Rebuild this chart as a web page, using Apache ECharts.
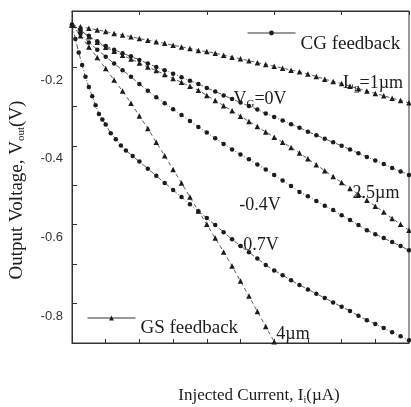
<!DOCTYPE html>
<html>
<head>
<meta charset="utf-8">
<script src="https://cdn.jsdelivr.net/npm/echarts@6/dist/echarts.min.js"></script>
<style>
html,body{margin:0;padding:0;background:#fff;}
#chart{width:411px;height:407px;}
</style>
</head>
<body>
<div id="chart"></div>
<script>
// Injected current (x, arbitrary units 0..10) vs output voltage (V)
const gs1um = [[0,-0.093],[0.25,-0.098],[0.5,-0.102],[0.75,-0.106],[1,-0.110],[1.25,-0.115],[1.5,-0.119],[1.75,-0.123],[2,-0.128],[2.25,-0.132],[2.5,-0.136],[2.75,-0.140],[3,-0.145],[3.25,-0.149],[3.5,-0.153],[3.75,-0.158],[4,-0.161],[4.25,-0.165],[4.5,-0.170],[4.75,-0.175],[5,-0.179],[5.25,-0.184],[5.5,-0.189],[5.75,-0.194],[6,-0.198],[6.25,-0.203],[6.5,-0.208],[6.75,-0.212],[7,-0.218],[7.25,-0.224],[7.5,-0.231],[7.75,-0.237],[8,-0.242],[8.25,-0.249],[8.5,-0.255],[8.75,-0.261],[9,-0.267],[9.25,-0.273],[9.5,-0.279],[9.75,-0.285],[10,-0.291]];
const cg0V = [[0,-0.093],[0.25,-0.107],[0.5,-0.121],[0.75,-0.135],[1,-0.147],[1.25,-0.156],[1.5,-0.165],[1.75,-0.173],[2,-0.182],[2.25,-0.191],[2.5,-0.200],[2.75,-0.208],[3,-0.217],[3.25,-0.226],[3.5,-0.235],[3.75,-0.243],[4,-0.253],[4.25,-0.262],[4.5,-0.272],[4.75,-0.281],[5,-0.290],[5.25,-0.299],[5.5,-0.308],[5.75,-0.318],[6,-0.327],[6.25,-0.336],[6.5,-0.345],[6.75,-0.354],[7,-0.364],[7.25,-0.373],[7.5,-0.382],[7.75,-0.391],[8,-0.400],[8.25,-0.409],[8.5,-0.419],[8.75,-0.428],[9,-0.437],[9.25,-0.446],[9.5,-0.456],[9.75,-0.465],[10,-0.474]];
const gs2p5um = [[0,-0.093],[0.25,-0.108],[0.5,-0.123],[0.75,-0.137],[1,-0.150],[1.25,-0.160],[1.5,-0.170],[1.75,-0.180],[2,-0.190],[2.25,-0.200],[2.5,-0.209],[2.75,-0.219],[3,-0.229],[3.25,-0.239],[3.5,-0.249],[3.75,-0.259],[4,-0.272],[4.25,-0.285],[4.5,-0.298],[4.75,-0.311],[5,-0.325],[5.25,-0.338],[5.5,-0.351],[5.75,-0.365],[6,-0.378],[6.25,-0.391],[6.5,-0.404],[6.75,-0.418],[7,-0.433],[7.25,-0.448],[7.5,-0.463],[7.75,-0.478],[8,-0.493],[8.25,-0.508],[8.5,-0.523],[8.75,-0.538],[9,-0.553],[9.25,-0.568],[9.5,-0.584],[9.75,-0.599],[10,-0.614]];
const cgM04V = [[0,-0.093],[0.25,-0.116],[0.5,-0.138],[0.75,-0.156],[1,-0.174],[1.25,-0.191],[1.5,-0.208],[1.75,-0.225],[2,-0.243],[2.25,-0.260],[2.5,-0.277],[2.75,-0.292],[3,-0.307],[3.25,-0.322],[3.5,-0.337],[3.75,-0.352],[4,-0.366],[4.25,-0.381],[4.5,-0.395],[4.75,-0.409],[5,-0.422],[5.25,-0.434],[5.5,-0.447],[5.75,-0.460],[6,-0.474],[6.25,-0.488],[6.5,-0.502],[6.75,-0.517],[7,-0.528],[7.25,-0.540],[7.5,-0.552],[7.75,-0.563],[8,-0.576],[8.25,-0.588],[8.5,-0.601],[8.75,-0.614],[9,-0.624],[9.25,-0.634],[9.5,-0.644],[9.75,-0.654],[10,-0.665]];
const gs4um = [[0,-0.093],[0.25,-0.121],[0.5,-0.149],[0.75,-0.176],[1,-0.204],[1.25,-0.233],[1.5,-0.261],[1.75,-0.292],[2,-0.324],[2.25,-0.356],[2.5,-0.391],[2.75,-0.425],[3,-0.460],[3.25,-0.494],[3.5,-0.530],[3.75,-0.565],[4,-0.599],[4.25,-0.634],[4.5,-0.669],[4.75,-0.705],[5,-0.743],[5.25,-0.781],[5.5,-0.820],[5.75,-0.858],[6,-0.897]];
const cgM07V = [[0,-0.093],[0.1,-0.129],[0.2,-0.163],[0.3,-0.195],[0.4,-0.225],[0.5,-0.251],[0.6,-0.274],[0.7,-0.297],[0.8,-0.319],[0.9,-0.333],[1,-0.346],[1.15,-0.368],[1.3,-0.383],[1.45,-0.399],[1.6,-0.412],[1.8,-0.426],[2,-0.440],[2.25,-0.458],[2.5,-0.476],[2.75,-0.494],[3,-0.512],[3.25,-0.530],[3.5,-0.548],[3.75,-0.566],[4,-0.583],[4.25,-0.601],[4.5,-0.619],[4.75,-0.637],[5,-0.654],[5.25,-0.670],[5.5,-0.686],[5.75,-0.702],[6,-0.716],[6.25,-0.728],[6.5,-0.741],[6.75,-0.753],[7,-0.764],[7.25,-0.775],[7.5,-0.786],[7.75,-0.797],[8,-0.808],[8.25,-0.819],[8.5,-0.831],[8.75,-0.842],[9,-0.852],[9.25,-0.862],[9.5,-0.873],[9.75,-0.883],[10,-0.893]];
const yTickLabels = ['-0.2', '-0.4', '-0.6', '-0.8'];
const xMin = 0, xMax = 10;
const yMin = -0.9, yMax = -0.058;

const ink = '#1c1c1c';
const serif = '"Liberation Serif", "DejaVu Serif", serif';

function cgSeries(data) {
  return {
    name: 'CG feedback', type: 'line', data: data,
    symbol: 'circle', symbolSize: 4.5,
    itemStyle: { color: ink },
    lineStyle: { color: '#333', width: 0.8, type: [5, 2, 1, 2] },
    z: 3
  };
}
function gsSeries(data) {
  return {
    name: 'GS feedback', type: 'line', data: data,
    symbol: 'triangle', symbolSize: 5.5,
    itemStyle: { color: ink },
    lineStyle: { color: '#333', width: 0.8, type: [4, 3] },
    z: 3
  };
}

const chart = echarts.init(document.getElementById('chart'), null, { renderer: 'canvas' });
chart.setOption({
  animation: false,
  backgroundColor: '#fff',
  grid: { left: 72, right: 2, top: 11, bottom: 64, show: true, borderColor: '#333', borderWidth: 1 },
  xAxis: [{
    type: 'value', min: xMin, max: xMax, interval: 1, position: 'bottom',
    axisLine: { show: true, lineStyle: { color: '#333', width: 1 } },
    axisTick: { show: true, inside: true, length: 4, lineStyle: { color: '#333' } },
    axisLabel: { show: false }, splitLine: { show: false }
  }, {
    type: 'value', min: xMin, max: xMax, interval: 2, position: 'top',
    axisLine: { show: true, lineStyle: { color: '#333', width: 1 } },
    axisTick: { show: true, inside: true, length: 4, lineStyle: { color: '#333' } },
    axisLabel: { show: false }, splitLine: { show: false }
  }],
  yAxis: {
    type: 'value', min: yMin, max: yMax, interval: 0.1,
    axisLine: { show: true, lineStyle: { color: '#333', width: 1 } },
    axisTick: { show: true, inside: true, length: 5, lineStyle: { color: '#333' } },
    splitLine: { show: false },
    axisLabel: {
      margin: 9, color: '#333', fontSize: 13, lineHeight: 26,
      fontFamily: '"Liberation Sans", Arial, sans-serif',
      formatter: function (v) {
        const s = (Math.round(v * 10) / 10).toFixed(1);
        return yTickLabels.indexOf(s) >= 0 ? '\n' + s : '';
      }
    }
  },
  legend: [{
    data: ['CG feedback'], left: 242, top: 6, itemWidth: 48, itemHeight: 6,
    selectedMode: false,
    formatter: function (n) { return '\n' + n; },
    lineStyle: { type: 'solid', width: 1, color: '#333' },
    textStyle: { fontFamily: serif, fontSize: 19, color: ink, lineHeight: 22 }
  }, {
    data: ['GS feedback'], left: 82, top: 292, itemWidth: 48, itemHeight: 6,
    selectedMode: false,
    formatter: function (n) { return '\n' + n; },
    lineStyle: { type: 'solid', width: 1, color: '#333' },
    textStyle: { fontFamily: serif, fontSize: 19, color: ink, lineHeight: 21 }
  }],
  series: [
    gsSeries(gs1um), cgSeries(cg0V), gsSeries(gs2p5um),
    cgSeries(cgM04V), gsSeries(gs4um), cgSeries(cgM07V)
  ],
  graphic: [
    { type: 'text', x: 17, y: 190, rotation: Math.PI / 2,
      style: { text: '{a|Output Voltage, V}{s|out}{a|(V)}', align: 'center', verticalAlign: 'middle', fill: ink,
        rich: { a: { fontFamily: serif, fontSize: 19, fill: ink }, s: { fontFamily: serif, fontSize: 11, fill: ink, padding: [9, 0, 0, 0] } } } },
    { type: 'text', x: 259, y: 396,
      style: { text: '{a|Injected Current, I}{s|i}{a|(µA)}', align: 'center', verticalAlign: 'middle', fill: ink,
        rich: { a: { fontFamily: serif, fontSize: 17, fill: ink }, s: { fontFamily: serif, fontSize: 10, fill: ink, padding: [8, 0, 0, 0] } } } },
    { type: 'text', x: 373, y: 83,
      style: { text: '{a|L}{s|g}{a|=1µm}', align: 'center', verticalAlign: 'middle', fill: ink,
        rich: { a: { fontFamily: serif, fontSize: 18, fill: ink }, s: { fontFamily: serif, fontSize: 11, fill: ink, padding: [10, 0, 0, 0] } } } },
    { type: 'text', x: 260, y: 99,
      style: { text: '{a|V}{s|G}{a|=0V}', align: 'center', verticalAlign: 'middle', fill: ink,
        rich: { a: { fontFamily: serif, fontSize: 18, fill: ink }, s: { fontFamily: serif, fontSize: 11, fill: ink, padding: [10, 0, 0, 0] } } } },
    { type: 'text', x: 376, y: 193,
      style: { text: '2.5µm', align: 'center', verticalAlign: 'middle', fill: ink, font: '18px ' + serif } },
    { type: 'text', x: 260, y: 205,
      style: { text: '-0.4V', align: 'center', verticalAlign: 'middle', fill: ink, font: '18px ' + serif } },
    { type: 'text', x: 258, y: 245,
      style: { text: '-0.7V', align: 'center', verticalAlign: 'middle', fill: ink, font: '18px ' + serif } },
    { type: 'text', x: 293, y: 334,
      style: { text: '4µm', align: 'center', verticalAlign: 'middle', fill: ink, font: '18px ' + serif } }
  ]
});
</script>
</body>
</html>
